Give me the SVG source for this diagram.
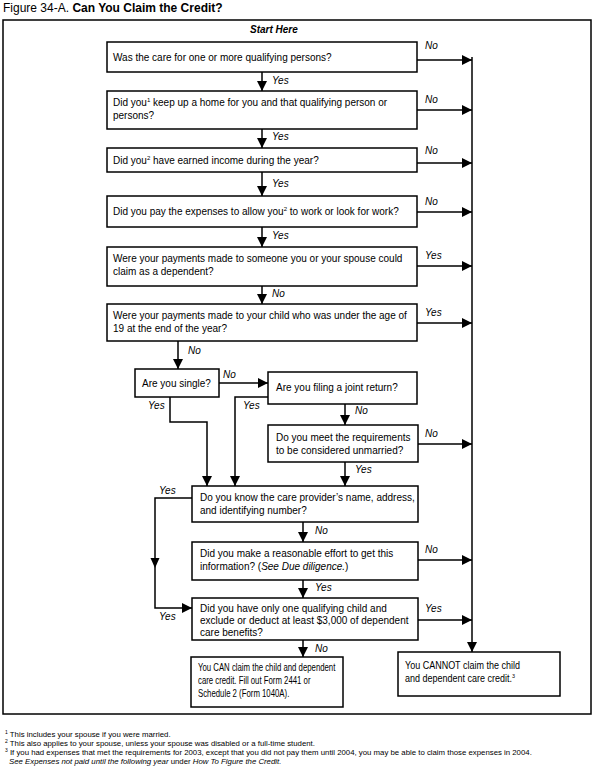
<svg xmlns="http://www.w3.org/2000/svg" width="595" height="776" viewBox="0 0 595 776">
<defs>
<marker id="ah" markerUnits="userSpaceOnUse" markerWidth="10" markerHeight="10" refX="10" refY="5" orient="auto">
<path d="M0,0 L10,5 L0,10 z" fill="#000"/>
</marker>
<style>
text{font-family:"Liberation Sans",Arial,sans-serif;font-size:10px;fill:#000}
.box{fill:#fff;stroke:#000;stroke-width:1.5}
.c{fill:none;stroke:#000;stroke-width:1.5;marker-end:url(#ah)}
.l{font-style:italic}
.sup{font-size:6px}
.fn{font-size:7.8px}
</style>
</defs>
<rect width="595" height="776" fill="#fff"/>
<text x="3" y="12" style="font-size:12px">Figure 34-A. <tspan font-weight="bold">Can You Claim the Credit?</tspan></text>
<rect x="3" y="20" width="588" height="694" fill="none" stroke="#000" stroke-width="1.5"/>
<text x="250" y="33" font-weight="bold" font-style="italic">Start Here</text>

<g id="q1"><rect class="box" x="107" y="42" width="310" height="30"/><text x="113" y="61">Was the care for one or more qualifying persons?</text></g>
<g id="q2"><rect class="box" x="107" y="91" width="310" height="38"/><text x="113" y="106">Did you<tspan class="sup" dy="-4">1</tspan><tspan dy="4"> keep up a home for you and that qualifying person or</tspan></text><text x="113" y="119">persons?</text></g>
<g id="q3"><rect class="box" x="107" y="148" width="310" height="24"/><text x="113" y="164">Did you<tspan class="sup" dy="-4">2</tspan><tspan dy="4"> have earned income during the year?</tspan></text></g>
<g id="q4"><rect class="box" x="107" y="196" width="310" height="31"/><text x="113" y="215">Did you pay the expenses to allow you<tspan class="sup" dy="-4">2</tspan><tspan dy="4"> to work or look for work?</tspan></text></g>
<g id="q5"><rect class="box" x="107" y="247" width="310" height="39"/><text x="113" y="262">Were your payments made to someone you or your spouse could</text><text x="113" y="275">claim as a dependent?</text></g>
<g id="q6"><rect class="box" x="107" y="304" width="310" height="37"/><text x="113" y="319">Were your payments made to your child who was under the age of</text><text x="113" y="332">19 at the end of the year?</text></g>
<g id="q7"><rect class="box" x="135" y="369" width="84" height="28"/><text x="142" y="387">Are you single?</text></g>
<g id="q8"><rect class="box" x="268" y="372" width="149" height="32"/><text x="276" y="391">Are you filing a joint return?</text></g>
<g id="q9"><rect class="box" x="268" y="425" width="150" height="37"/><text x="276" y="441">Do you meet the requirements</text><text x="276" y="454">to be considered unmarried?</text></g>
<g id="q10"><rect class="box" x="192" y="486" width="226" height="36"/><text x="200" y="501">Do you know the care provider’s name, address,</text><text x="200" y="514">and identifying number?</text></g>
<g id="q11"><rect class="box" x="192" y="542" width="226" height="38"/><text x="200" y="557">Did you make a reasonable effort to get this</text><text x="200" y="570">information? (<tspan font-style="italic">See Due diligence.</tspan>)</text></g>
<g id="q12"><rect class="box" x="192" y="598" width="226" height="42"/><text x="200" y="612">Did you have only one qualifying child and</text><text x="200" y="624">exclude or deduct at least $3,000 of dependent</text><text x="200" y="636">care benefits?</text></g>
<g id="r1"><rect class="box" x="191" y="657" width="152" height="50"/><g transform="translate(198 0) scale(0.78 1) translate(-198 0)"><text x="198" y="671">You CAN claim the child and dependent</text><text x="198" y="684">care credit. Fill out Form 2441 or</text><text x="198" y="697">Schedule 2 (Form 1040A).</text></g></g>
<g id="r2"><rect class="box" x="398" y="652" width="162" height="44"/><g transform="translate(405 0) scale(0.9 1) translate(-405 0)"><text x="405" y="669">You CANNOT claim the child</text><text x="405" y="682">and dependent care credit.<tspan class="sup" dy="-4">3</tspan></text></g></g>

<g id="connectors">
<line class="c" x1="262" y1="72" x2="262" y2="91"/>
<line class="c" x1="262" y1="129" x2="262" y2="148"/>
<line class="c" x1="262" y1="172" x2="262" y2="196"/>
<line class="c" x1="262" y1="227" x2="262" y2="247"/>
<line class="c" x1="262" y1="286" x2="262" y2="304"/>
<line class="c" x1="178" y1="341" x2="178" y2="369"/>
<line class="c" x1="417" y1="60" x2="472" y2="60"/>
<line class="c" x1="417" y1="110" x2="472" y2="110"/>
<line class="c" x1="417" y1="163" x2="472" y2="163"/>
<line class="c" x1="417" y1="212" x2="472" y2="212"/>
<line class="c" x1="417" y1="266" x2="472" y2="266"/>
<line class="c" x1="417" y1="323" x2="472" y2="323"/>
<line class="c" x1="472" y1="57" x2="472" y2="652"/>
<line class="c" x1="219" y1="383" x2="268" y2="383"/>
<path class="c" d="M170,397 V422 H207 V486"/>
<path class="c" d="M268,397 H235 V486"/>
<line class="c" x1="345" y1="404" x2="345" y2="425"/>
<line class="c" x1="418" y1="444" x2="472" y2="444"/>
<line class="c" x1="345" y1="462" x2="345" y2="486"/>
<path class="c" d="M192,498 H155 V608 H192"/>
<path d="M150.5,558 L159.5,558 L155,568 z" fill="#000"/>
<line class="c" x1="303" y1="522" x2="303" y2="542"/>
<line class="c" x1="418" y1="560" x2="472" y2="560"/>
<line class="c" x1="303" y1="580" x2="303" y2="598"/>
<line class="c" x1="418" y1="620" x2="472" y2="620"/>
<line class="c" x1="303" y1="640" x2="303" y2="657"/>
<g class="l">
<text class="l" x="272" y="84">Yes</text>
<text class="l" x="272" y="140">Yes</text>
<text class="l" x="272" y="187">Yes</text>
<text class="l" x="272" y="239">Yes</text>
<text class="l" x="272" y="297">No</text>
<text class="l" x="188" y="354">No</text>
<text class="l" x="425" y="49">No</text>
<text class="l" x="425" y="103">No</text>
<text class="l" x="425" y="154">No</text>
<text class="l" x="425" y="205">No</text>
<text class="l" x="425" y="259">Yes</text>
<text class="l" x="425" y="316">Yes</text>
<text class="l" x="223" y="378">No</text>
<text class="l" x="148" y="409">Yes</text>
<text class="l" x="243" y="409">Yes</text>
<text class="l" x="355" y="414">No</text>
<text class="l" x="425" y="437">No</text>
<text class="l" x="355" y="473">Yes</text>
<text class="l" x="159" y="494">Yes</text>
<text class="l" x="315" y="534">No</text>
<text class="l" x="425" y="553">No</text>
<text class="l" x="315" y="591">Yes</text>
<text class="l" x="425" y="612">Yes</text>
<text class="l" x="159" y="620">Yes</text>
<text class="l" x="315" y="652">No</text>
</g>
</g>

<g id="footnotes">
<text class="fn" x="5" y="737"><tspan font-size="5" dy="-3">1</tspan><tspan dy="3"> This includes your spouse if you were married.</tspan></text>
<text class="fn" x="5" y="746"><tspan font-size="5" dy="-3">2</tspan><tspan dy="3"> This also applies to your spouse, unless your spouse was disabled or a full-time student.</tspan></text>
<text class="fn" x="5" y="755"><tspan font-size="5" dy="-3">3</tspan><tspan dy="3"> If you had expenses that met the requirements for 2003, except that you did not pay them until 2004, you may be able to claim those expenses in 2004.</tspan></text>
<text class="fn" x="9" y="764"><tspan font-style="italic">See Expenses not paid until the following year</tspan> under <tspan font-style="italic">How To Figure the Credit.</tspan></text>
</g>
</svg>
